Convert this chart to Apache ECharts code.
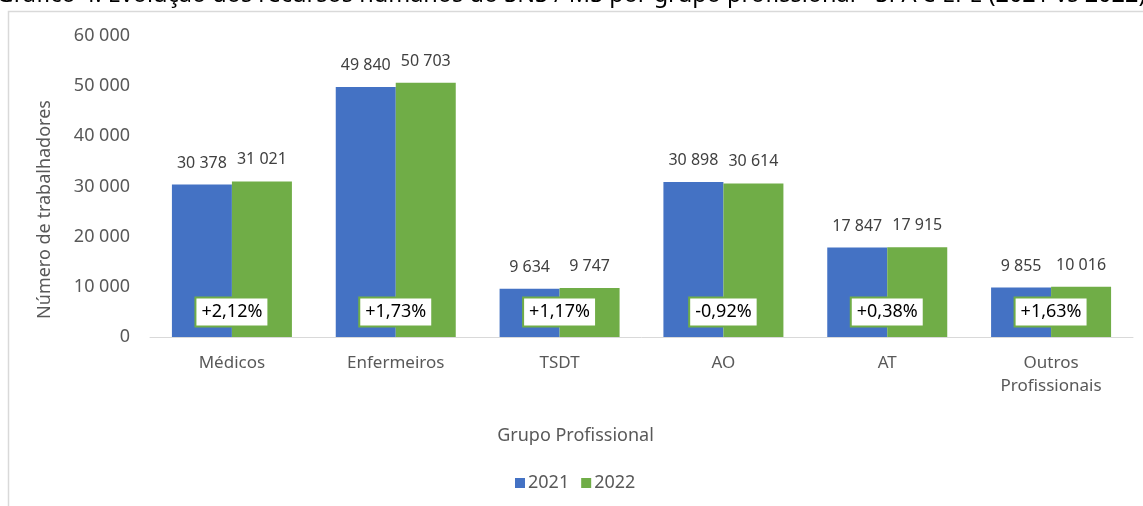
<!DOCTYPE html>
<html>
<head>
<meta charset="utf-8">
<script src="https://cdn.jsdelivr.net/npm/echarts@6/dist/echarts.min.js"></script>
<style>
  html, body { margin: 0; padding: 0; background: #fff; }
  #chart { width: 1143px; height: 506px; }
</style>
</head>
<body>
<div id="chart"></div>
<script>
// Grupos profissionais e efetivos (SPA e EPE)
const categorias = ['Médicos', 'Enfermeiros', 'TSDT', 'AO', 'AT', 'Outros\nProfissionais'];
const anos = ['2021', '2022'];
const valores2021 = [30378, 49840, 9634, 30898, 17847, 9855];
const valores2022 = [31021, 50703, 9747, 30614, 17915, 10016];
const variacao = ['+2,12%', '+1,73%', '+1,17%', '-0,92%', '+0,38%', '+1,63%'];
const ticksY = [0, 10000, 20000, 30000, 40000, 50000, 60000];
const titulo = 'Gráfico 4. Evolução dos recursos humanos do SNS / MS por grupo profissional - SPA e EPE (2021 vs 2022)';

const FONT = '"Noto Sans", "Open Sans", sans-serif';
const AZUL = '#4472C4';
const VERDE = '#70AD47';

// separador de milhares com espaço
const fmt = v => String(v).replace(/\B(?=(\d{3})+(?!\d))/g, ' ');

// altura (em valor do eixo) onde ficam as caixas de variação
const ALTURA_VARIACAO = 5000;

const chart = echarts.init(document.getElementById('chart'), null, { renderer: 'canvas' });

const valueLabel = {
  show: true,
  position: 'top',
  distance: 13,
  fontFamily: FONT,
  fontSize: 16,
  lineHeight: 17,
  color: '#404040',
  formatter: p => fmt(p.value)
};

chart.setOption({
  animation: false,
  textStyle: { fontFamily: FONT },
  graphic: [
    {
      type: 'rect',
      silent: true,
      z: -10,
      shape: { x: 8.5, y: 11.5, width: 1200, height: 600 },
      style: { fill: 'none', stroke: '#d9d9d9', lineWidth: 1.5 }
    },
    {
      type: 'text',
      silent: true,
      x: 571,
      y: 7,
      style: {
        text: titulo,
        font: '23.5px ' + FONT,
        fill: '#000',
        align: 'center',
        verticalAlign: 'bottom',
        textAlign: 'center',
        textVerticalAlign: 'bottom'
      }
    }
  ],
  grid: { left: 150, right: 10, top: 36, bottom: 169, containLabel: false },
  legend: {
    data: anos,
    left: 510,
    top: 469,
    itemWidth: 10,
    itemHeight: 10,
    itemGap: 12,
    icon: 'rect',
    textStyle: { fontFamily: FONT, fontSize: 18, color: '#595959', padding: [0, 0, 0, -2] }
  },
  xAxis: {
    type: 'category',
    data: categorias,
    name: 'Grupo Profissional',
    nameLocation: 'middle',
    nameGap: 90,
    nameTextStyle: { fontFamily: FONT, fontSize: 18, color: '#595959', padding: [0, 132, 0, 0] },
    axisLine: { show: true, lineStyle: { color: '#d9d9d9', width: 1 } },
    axisTick: { show: false },
    axisLabel: {
      fontFamily: FONT,
      fontSize: 17,
      color: '#595959',
      margin: 15,
      lineHeight: 23,
      interval: 0
    },
    splitLine: { show: false }
  },
  yAxis: {
    type: 'value',
    min: ticksY[0],
    max: ticksY[ticksY.length - 1],
    interval: ticksY[1] - ticksY[0],
    name: 'Número de trabalhadores',
    nameLocation: 'middle',
    nameRotate: 90,
    nameGap: 96,
    nameTextStyle: { fontFamily: FONT, fontSize: 18, color: '#595959', padding: [0, 46, 0, 0] },
    axisLine: { show: false },
    axisTick: { show: false },
    splitLine: { show: false },
    axisLabel: {
      fontFamily: FONT,
      fontSize: 18,
      color: '#595959',
      margin: 20,
      formatter: v => fmt(v)
    }
  },
  series: [
    {
      name: anos[0],
      type: 'bar',
      data: valores2021,
      barWidth: 60,
      barGap: '0%',
      itemStyle: { color: AZUL },
      label: valueLabel
    },
    {
      name: anos[1],
      type: 'bar',
      data: valores2022,
      barWidth: 60,
      barGap: '0%',
      itemStyle: { color: VERDE },
      label: valueLabel
    },
    {
      // caixas com a variação percentual 2021 → 2022
      name: 'variacao',
      type: 'scatter',
      silent: true,
      symbolSize: 0,
      z: 5,
      itemStyle: { opacity: 1 },
      data: categorias.map((c, i) => [i, ALTURA_VARIACAO]),
      label: {
        show: true,
        position: 'inside',
        opacity: 1,
        fontFamily: FONT,
        fontSize: 18,
        color: '#000',
        backgroundColor: '#ffffff',
        borderColor: VERDE,
        borderWidth: 2,
        padding: [5, 5, 4, 5],
        formatter: p => variacao[p.dataIndex]
      }
    }
  ]
});
</script>
</body>
</html>
